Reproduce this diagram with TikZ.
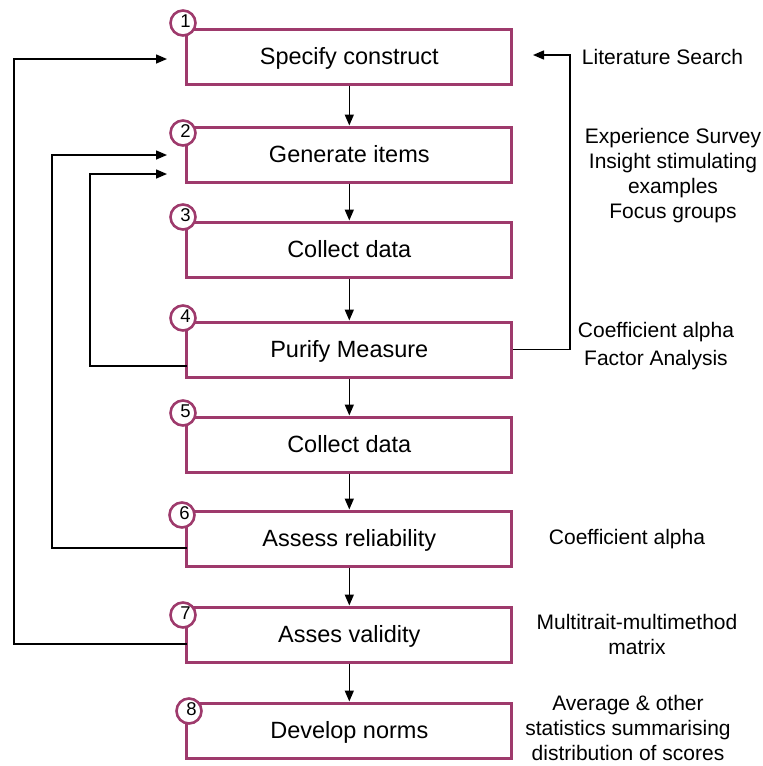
\documentclass[tikz,border=0pt]{standalone}
\usepackage{fontspec}
\setmainfont{Liberation Sans}
\usetikzlibrary{arrows.meta,calc}
\definecolor{plum}{RGB}{158,58,108}
\tikzset{
  stage/.style={draw=plum, line width=3pt, fill=white, minimum width=325pt,
    minimum height=55pt, inner sep=0pt, text height=21.8pt, text depth=5pt,
    font=\fontsize{23.5}{28}\selectfont},
  badge/.style={circle, draw=plum, line width=2.6pt, fill=white, minimum size=25pt,
    inner sep=0pt},
  badgenum/.style={inner sep=0pt, font=\fontsize{18.5}{20}\selectfont},
  conn/.style={line width=1.5pt, black},
  flow/.style={conn, -{Triangle[length=11pt,width=9pt]}},
  note/.style={align=center, inner sep=0pt, font=\fontsize{21}{25}\selectfont},
}
\begin{document}
\begin{tikzpicture}[x=1pt,y=-1pt]
\useasboundingbox (0,0) rectangle (763,766);

% stages of the procedure
\node[stage] (b1) at (349.3,56.5)  {Specify construct};
\node[stage] (b2) at (349.3,154.5) {Generate items};
\node[stage] (b3) at (349.3,249.5) {Collect data};
\node[stage] (b4) at (349.3,349.5) {Purify Measure};
\node[stage] (b5) at (349.3,444.5) {Collect data};
\node[stage] (b6) at (349.3,538.5) {Assess reliability};
\node[stage] (b7) at (349.3,634.5) {Asses validity};
\node[stage] (b8) at (349.3,730.5) {Develop norms};

% numbered badges on the corners
\foreach \n/\x/\y in {1/183/23, 2/183/133, 3/183/217, 4/183/318,
                      5/183/413, 6/182/515, 7/183/615, 8/189/711} {
  \node[badge] (c\n) at (\x,\y) {};
  \node[badgenum] (n\n) at ($(c\n)+(2.5,-1.5)$) {\n};
}

% main downward flow
\foreach \a/\b in {b1/b2, b2/b3, b3/b4, b4/b5, b5/b6, b6/b7, b7/b8}
  \draw[flow] (\a) -- (\b);

% feedback loops on the left
\coordinate (s7) at (186.7,644);
\coordinate (s6) at (186.7,548);
\coordinate (s4) at (186.7,366);
\coordinate (t1) at (167,59);
\coordinate (t2a) at (167,155);
\coordinate (t2b) at (167,174);
\coordinate (k7) at (14,644);
\coordinate (k6) at (52,548);
\coordinate (k4) at (90,366);
\draw[flow] (s7) -- (k7) |- (t1);
\draw[flow] (s6) -- (k6) |- (t2a);
\draw[flow] (s4) -- (k4) |- (t2b);

% feedback loop on the right
\coordinate (rc) at (570,55);
\coordinate (r1) at (533,55);
\draw[flow] (b4.east) -| (rc) -- (r1);

% methods used at each stage
\node[note] (m1) at (662.5,57) {Literature Search};
\node[note] (m2) at (673,176) {Experience Survey\\Insight stimulating\\examples\\Focus groups};
\node[note, font=\fontsize{21}{28}\selectfont] (m4) at (656,346) {Coefficient alpha\\Factor Analysis};
\node[note] (m6) at (627,539) {Coefficient alpha};
\node[note] (m7) at (637,634) {Multitrait-multimethod\\matrix};
\node[note] (m8) at (628,728) {Average \& other\\statistics summarising\\distribution of scores};
\end{tikzpicture}
\end{document}
